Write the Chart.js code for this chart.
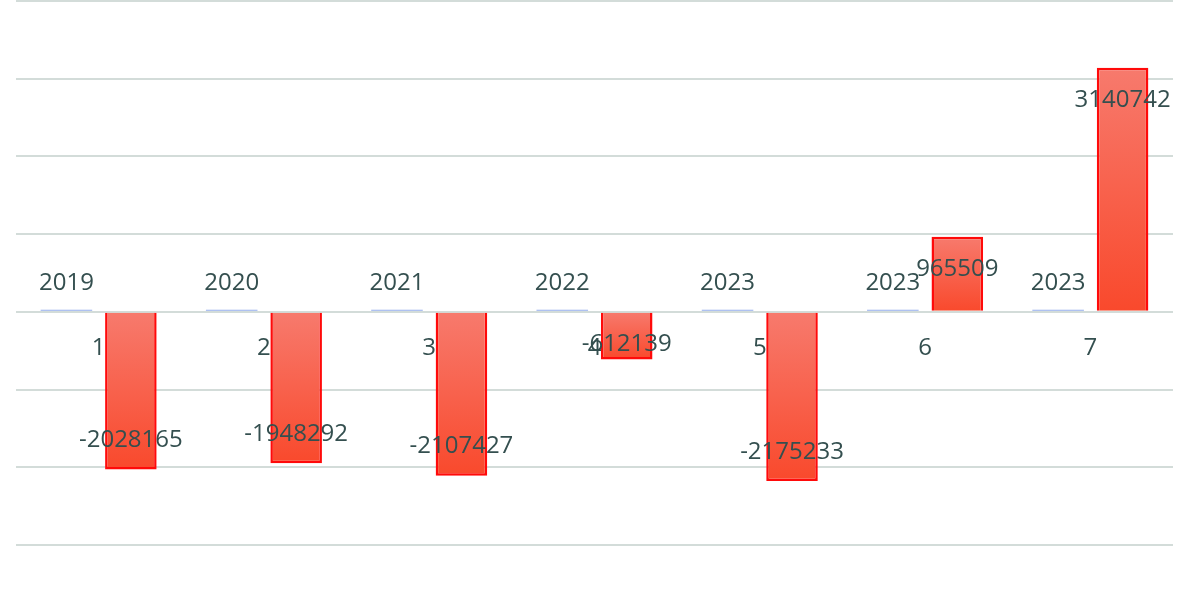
<!DOCTYPE html>
<html>
<head>
<meta charset="utf-8">
<script src="https://cdn.jsdelivr.net/npm/chart.js@4/dist/chart.umd.min.js"></script>
<style>
  html, body { margin: 0; padding: 0; background: #fff; }
  #wrap { width: 1200px; height: 592px; }
</style>
</head>
<body>
<div id="wrap"><canvas id="BarChart" width="1200" height="592"></canvas></div>
<script>
// chart data
const categories = ["1", "2", "3", "4", "5", "6", "7"];
const years = [2019, 2020, 2021, 2022, 2023, 2023, 2023];
const changes = [-2028165, -1948292, -2107427, -612139, -2175233, 965509, 3140742];
const yTicks = [-3000000, -2000000, -1000000, 0, 1000000, 2000000, 3000000, 4000000];

const textColor = "#344f4f";
const labelFont = "24px 'Open Sans', sans-serif";

function redFill(c) {
    let y = c.chart.scales.y;
    if (c.type !== "data" || !y || c.raw === undefined) return "#f66252";
    let top = y.getPixelForValue(Math.max(c.raw, 0));
    let bottom = y.getPixelForValue(Math.min(c.raw, 0));
    if (!isFinite(top) || !isFinite(bottom) || top === bottom) return "#f66252";
    let g = c.chart.ctx.createLinearGradient(0, top, 0, bottom);
    g.addColorStop(0, "#f77a6d");
    g.addColorStop(1, "#f9492c");
    return g;
}

// category numbers and value labels, drawn next to the zero line like the original
const labelPlugin = {
    id: "labels",
    afterDatasetsDraw(chart) {
        let ctx = chart.ctx;
        let x = chart.scales.x;
        let y = chart.scales.y;
        let zero = y.getPixelForValue(0);
        ctx.save();
        ctx.font = labelFont;
        ctx.fillStyle = textColor;
        ctx.textAlign = "center";
        ctx.textBaseline = "middle";

        categories.forEach((cat, i) => {
            ctx.fillText(cat, x.getPixelForValue(i), zero + 36);
        });

        let m0 = chart.getDatasetMeta(0);
        m0.data.forEach((bar, i) => {
            ctx.fillText(String(years[i]), bar.x, zero - 29);
        });

        let m1 = chart.getDatasetMeta(1);
        m1.data.forEach((bar, i) => {
            let v = changes[i];
            let end = y.getPixelForValue(v);
            let len = Math.abs(end - zero);
            let ty;
            if (len < 62) {
                ty = v < 0 ? zero + 32 : zero - 32;
            } else {
                ty = v < 0 ? end - 29 : end + 32;
            }
            ctx.fillText(String(v), bar.x, ty);
        });
        ctx.restore();
    }
};

let ctx = document.getElementById("BarChart").getContext("2d");
let barChart = new Chart(ctx, {
    type: "bar",
    data: {
        labels: categories,
        datasets: [
            {
                label: "Year",
                data: years,
                backgroundColor: "#93acec",
                minBarLength: 2,
                categoryPercentage: 0.78,
                barPercentage: 0.8
            },
            {
                label: "Change",
                data: changes,
                backgroundColor: redFill,
                borderColor: "#ff0a0a",
                borderWidth: 2.5,
                categoryPercentage: 0.78,
                barPercentage: 0.8
            }
        ]
    },
    options: {
        responsive: false,
        animation: false,
        layout: {
            padding: {left: 16, right: 27, top: 1, bottom: 47}
        },
        plugins: {
            legend: {display: false},
            tooltip: {enabled: false}
        },
        scales: {
            x: {
                display: false
            },
            y: {
                min: yTicks[0],
                max: yTicks[yTicks.length - 1],
                afterBuildTicks: (axis) => {
                    axis.ticks = yTicks.map(v => ({value: v}));
                },
                ticks: {display: false},
                border: {display: false},
                grid: {
                    color: "#d3dcd9",
                    lineWidth: 2,
                    drawTicks: false
                }
            }
        }
    },
    plugins: [labelPlugin]
});
</script>
</body>
</html>
